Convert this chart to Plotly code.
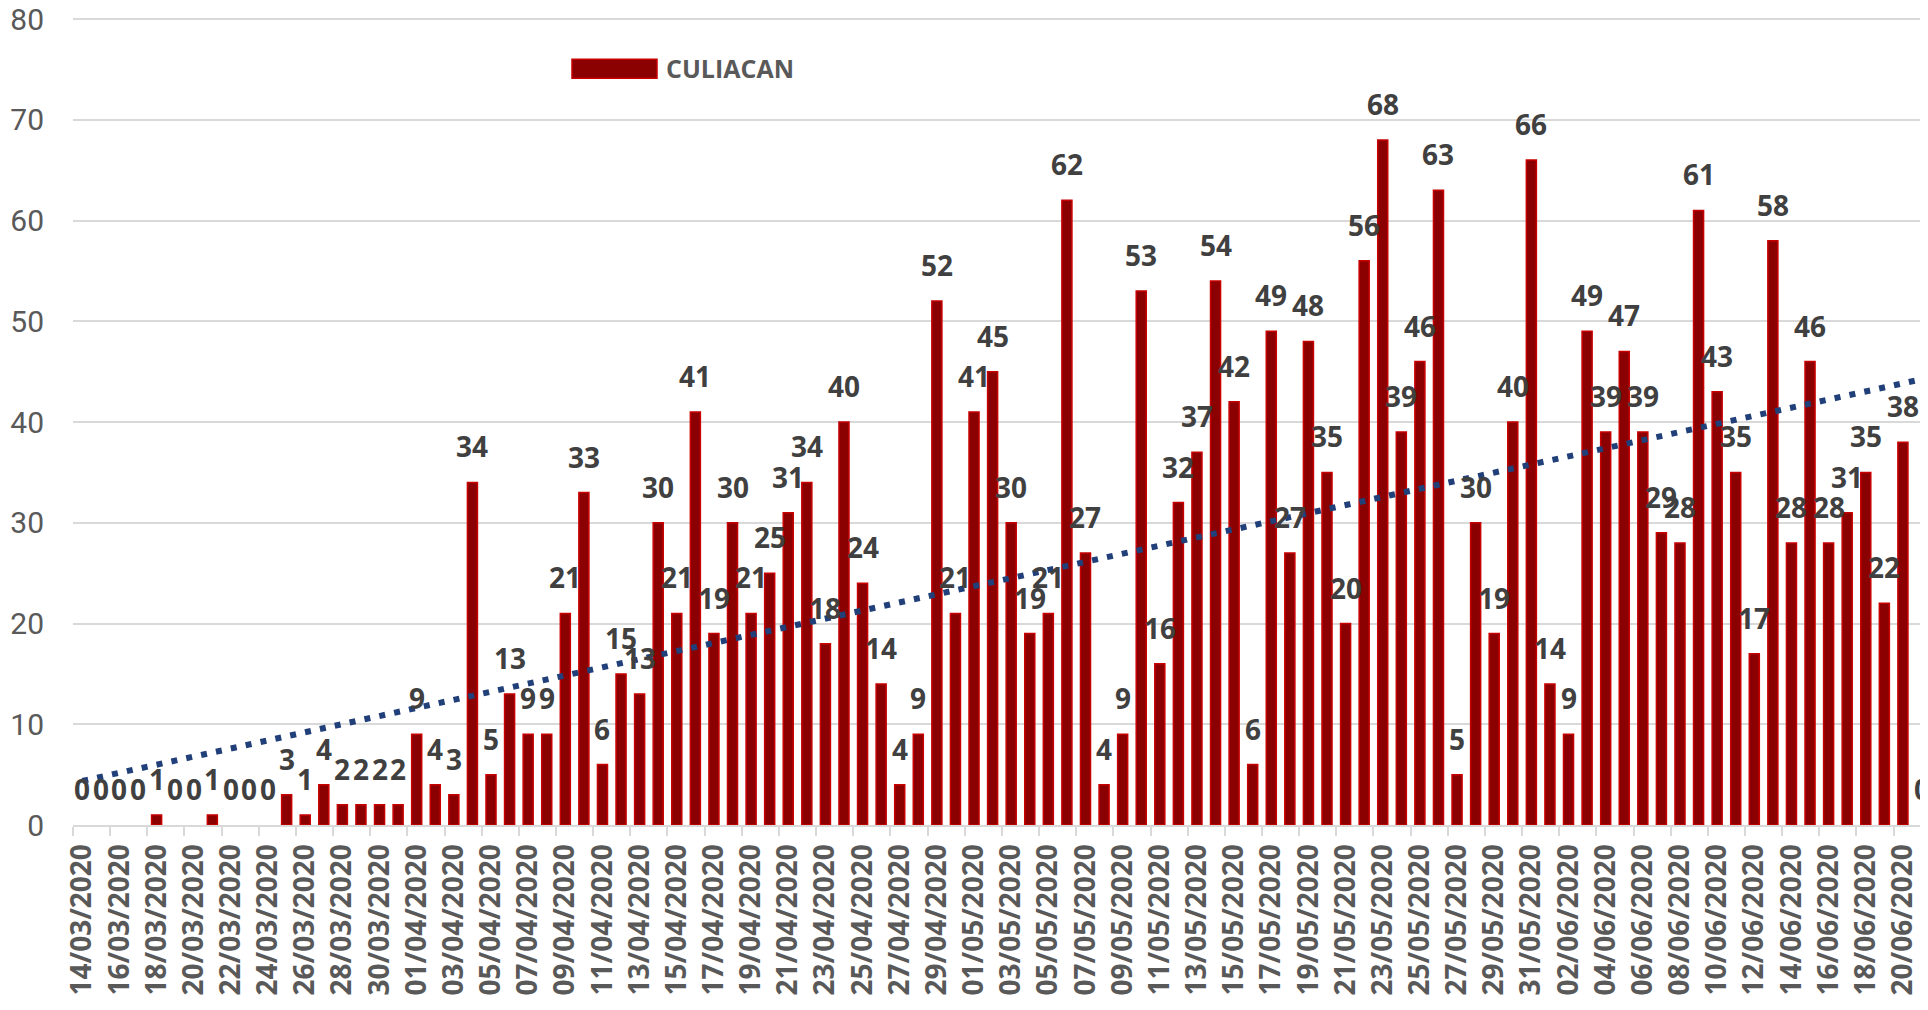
import numpy as np
import plotly.graph_objects as go
from datetime import date, timedelta

# ---- data ----
start = date(2020, 3, 14)
values = [
    # March 14-31
    0, 0, 0, 0, 1, 0, 0, 1, 0, 0, 0, 3, 1, 4, 2, 2, 2, 2,
    # April
    9, 4, 3, 34, 5, 13, 9, 9, 21, 33, 6, 15, 13, 30, 21, 41, 19, 30, 21, 25,
    31, 34, 18, 40, 24, 14, 4, 9, 52, 21,
    # May
    41, 45, 30, 19, 21, 62, 27, 4, 9, 53, 16, 32, 37, 54, 42, 6, 49, 27, 48, 35,
    20, 56, 68, 39, 46, 63, 5, 30, 19, 40, 66,
    # June 1-21
    14, 9, 49, 39, 47, 39, 29, 28, 61, 43, 35, 17, 58, 28, 46, 28, 31, 35, 22, 38, 0,
]
dates = [(start + timedelta(days=i)).strftime("%d/%m/%Y") for i in range(len(values))]
series_name = "CULIACAN"
y_ticks = [0, 10, 20, 30, 40, 50, 60, 70, 80]

idx = np.arange(len(values))
slope, intercept = np.polyfit(idx, values, 1)
trend_x = [idx[0], idx[-1]]
trend_y = [intercept + slope * idx[0], intercept + slope * idx[-1]]

BAR_FILL = "#8B0000"
BAR_EDGE = "#C80000"
GRID = "#D9D9D9"
LABEL = "#404040"
AXIS_TXT = "#595959"

# page has an 8px body margin around the figure div
OFF = 8
FIG_W, FIG_H = 1928, 1010
PL, PR, PT, PB = 73 - OFF, 1928 - OFF, 18.3 - OFF, 825 - OFF  # plot area in figure px

fig = go.Figure()
fig.add_trace(go.Bar(
    x=idx, y=values, name=series_name, width=0.54,
    marker=dict(color=BAR_FILL,
                line=dict(color=BAR_EDGE, width=[1.5 if v > 0 else 0 for v in values])),
    showlegend=False, hoverinfo="x+y",
))
fig.add_trace(go.Scatter(
    x=trend_x, y=trend_y, mode="lines",
    line=dict(color="#213F78", width=6, dash="6px,9.2px"),
    showlegend=False, hoverinfo="skip",
))

annotations = []
for i, v in zip(idx, values):
    annotations.append(dict(
        x=int(i), y=v, xref="x", yref="y", text=str(v), showarrow=False,
        yanchor="bottom", xanchor="center", yshift=15,
        font=dict(family="Open Sans", size=28, color=LABEL, weight="bold"),
    ))

W, H = PR - PL, PB - PT
def px_x(x):  # page px -> paper fraction
    return (x - OFF - PL) / W
def px_y(y):
    return (PB - (y - OFF)) / H

annotations.append(dict(
    x=px_x(664), y=px_y(68), xref="paper", yref="paper", text=series_name,
    showarrow=False, xanchor="left", yanchor="middle",
    font=dict(family="Open Sans", size=25, color=AXIS_TXT, weight="bold"),
))
shapes = [dict(
    type="rect", xref="paper", yref="paper",
    x0=px_x(572), x1=px_x(657), y0=px_y(78.5), y1=px_y(59.5),
    fillcolor=BAR_FILL, line=dict(color=BAR_EDGE, width=1.5), layer="above",
)]

fig.update_layout(
    width=FIG_W, height=FIG_H,
    margin=dict(l=PL, r=FIG_W - PR, t=PT, b=FIG_H - PB, autoexpand=False),
    paper_bgcolor="white", plot_bgcolor="white",
    annotations=annotations,
    shapes=shapes,
    showlegend=False,
)
fig.update_xaxes(
    range=[-0.5, 99.35],
    tickmode="array", tickvals=list(idx[::2]), ticktext=dates[::2],
    tickangle=-90, ticks="", ticklabelstandoff=6, ticklabeloverflow="allow",
    tickfont=dict(family="Open Sans", size=28, color=AXIS_TXT, weight="bold"),
    showline=True, linecolor=GRID, linewidth=2,
    showgrid=False, zeroline=False, automargin=False,
    minor=dict(tickmode="array", tickvals=[i - 0.5 for i in idx[::2]],
               ticks="outside", ticklen=9, tickcolor=GRID, tickwidth=2, showgrid=False),
)
fig.update_yaxes(
    range=[0, 80.1], tickmode="array", tickvals=y_ticks,
    ticks="", ticklabelstandoff=28, ticklabeloverflow="allow",
    tickfont=dict(family="Liberation Sans Narrow, Roboto", size=30, color=AXIS_TXT),
    showgrid=True, gridcolor=GRID, gridwidth=2,
    zeroline=False, showline=False, automargin=False,
)

fig.write_html("out.html")
